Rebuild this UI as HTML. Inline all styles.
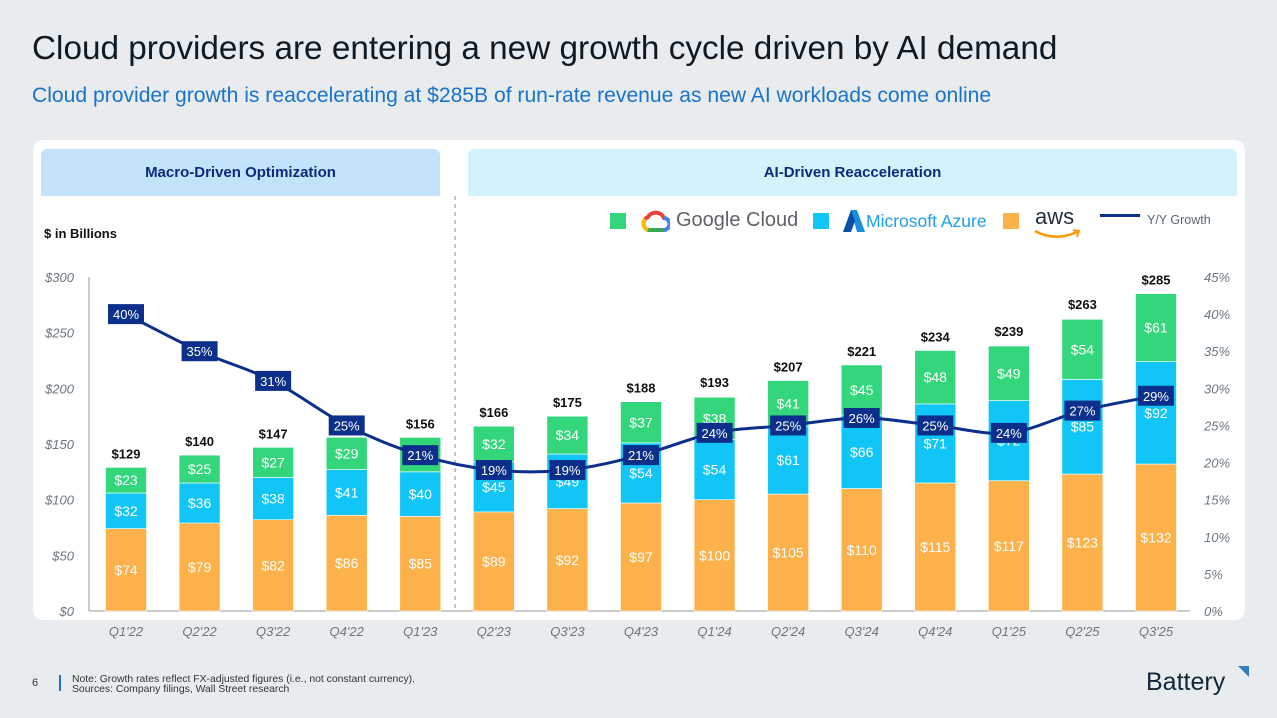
<!DOCTYPE html>
<html><head><meta charset="utf-8"><style>
body{margin:0;width:1277px;height:718px;background:#e8ecee;font-family:"Liberation Sans",sans-serif;position:relative;overflow:hidden}
.t{position:absolute;white-space:nowrap}
</style></head><body>
<div class="t" style="left:32px;top:30px;font-size:33.3px;color:#0e1a24">Cloud providers are entering a new growth cycle driven by AI demand</div>
<div class="t" style="left:32px;top:84px;font-size:21.1px;color:#1a73c9">Cloud provider growth is reaccelerating at $285B of run-rate revenue as new AI workloads come online</div>
<div style="position:absolute;left:33px;top:140px;width:1212px;height:480px;background:#fff;border-radius:10px"></div>
<div style="position:absolute;left:41px;top:149px;width:399px;height:47px;background:#c3e2fb;border-radius:6px 6px 0 0;color:#0d2a7a;font-weight:bold;font-size:15px;text-align:center;line-height:47px">Macro-Driven Optimization</div>
<div style="position:absolute;left:468px;top:149px;width:769px;height:47px;background:#d2f3fb;border-radius:6px 6px 0 0;color:#0d2a7a;font-weight:bold;font-size:15px;text-align:center;line-height:47px">AI-Driven Reacceleration</div>
<div class="t" style="left:44px;top:226px;font-size:13px;font-weight:bold;color:#111">$ in Billions</div>
<div>
<div style="position:absolute;left:610px;top:213px;width:16px;height:16px;background:#33d67a"></div>
<svg style="position:absolute;left:640px;top:208px" width="30" height="26" viewBox="0 0 30 26"><path d="M8 22 A7 7 0 0 1 8 9 A9 9 0 0 1 24 10 A6 6 0 0 1 23 22 Z" fill="none" stroke="#ea4335" stroke-width="4"/><path d="M8 22 L23 22" stroke="#34a853" stroke-width="4"/><path d="M23 22 A6 6 0 0 0 24 10" fill="none" stroke="#4285f4" stroke-width="4"/><path d="M8 22 A7 7 0 0 1 5 11" fill="none" stroke="#fbbc05" stroke-width="4"/></svg>
<div class="t" style="left:676px;top:209px;font-size:20px;color:#5f6368">Google Cloud</div>
<div style="position:absolute;left:813px;top:213px;width:16px;height:16px;background:#11c6f7"></div>
<svg style="position:absolute;left:842px;top:209px" width="24" height="24" viewBox="0 0 24 24"><path d="M9 1 L15 1 L23 23 L15 23 Z" fill="#1a8fe0"/><path d="M9 1 L1 23 L9 23 L13 12 Z" fill="#0b4ea8"/></svg>
<div class="t" style="left:866px;top:211px;font-size:17.5px;color:#1e9ee8">Microsoft Azure</div>
<div style="position:absolute;left:1003px;top:213px;width:16px;height:16px;background:#fdb14a"></div>
<div class="t" style="left:1035px;top:204px;font-size:22px;color:#232f3e">aws</div>
<svg style="position:absolute;left:1033px;top:228px" width="50" height="14"><path d="M2 3 Q22 14 44 4" stroke="#ff9900" stroke-width="2.5" fill="none"/><path d="M40 2 L46 3 L44 9" stroke="#ff9900" stroke-width="2" fill="none"/></svg>
<div style="position:absolute;left:1100px;top:214px;width:40px;height:3px;background:#0b2f8a"></div>
<div class="t" style="left:1147px;top:213px;font-size:12.5px;color:#5b6770">Y/Y Growth</div>
</div>
<svg id="chart" style="position:absolute;left:0;top:0" width="1277" height="718"></svg>
<div class="t" style="left:32px;top:677px;font-size:11px;color:#333">6</div>
<div style="position:absolute;left:59px;top:675px;width:2px;height:16px;background:#1a73c9"></div>
<div class="t" style="left:72px;top:675px;font-size:10.4px;color:#333;line-height:10px">Note: Growth rates reflect FX-adjusted figures (i.e., not constant currency).<br>Sources: Company filings, Wall Street research</div>
<div class="t" style="left:1146px;top:668px;font-size:25px;color:#12263a">Battery</div>
<div style="position:absolute;left:1238px;top:666px;width:0;height:0;border-left:11px solid transparent;border-top:11px solid #2f7fc1"></div>
<script>
const quarters=["Q1'22","Q2'22","Q3'22","Q4'22","Q1'23","Q2'23","Q3'23","Q4'23","Q1'24","Q2'24","Q3'24","Q4'24","Q1'25","Q2'25","Q3'25"];
const aws=[74,79,82,86,85,89,92,97,100,105,110,115,117,123,132];
const azure=[32,36,38,41,40,45,49,54,54,61,66,71,72,85,92];
const google=[23,25,27,29,31,32,34,37,38,41,45,48,49,54,61];
const totals=[129,140,147,156,156,166,175,188,193,207,221,234,239,263,285];
const growth=[40,35,31,25,21,19,19,21,24,25,26,25,24,27,29];
const leftTicks=[0,50,100,150,200,250,300];
const rightTicks=[0,5,10,15,20,25,30,35,40,45];
const svg=document.getElementById('chart');const NS='http://www.w3.org/2000/svg';
const y0=611,y1=277,x0=126,step=73.57,bw=41;
const yL=v=>y0-(v/300)*(y0-y1);const yR=v=>y0-(v/45)*(y0-y1);const xC=i=>x0+i*step;
function el(t,a,txt){const e=document.createElementNS(NS,t);for(const k in a)e.setAttribute(k,a[k]);if(txt!==undefined)e.textContent=txt;svg.appendChild(e);return e;}
let e;
e=el('line',{x1:89,y1:y1,x2:89,y2:y0,stroke:'#999'});
e=el('line',{x1:89,y1:y0,x2:1190,y2:y0,stroke:'#999'});
e=el('line',{x1:455,y1:196,x2:455,y2:611,stroke:'#888','stroke-dasharray':'4,4'});
leftTicks.forEach(v=>{e=el('text',{x:74,y:yL(v)+5,'text-anchor':'end','font-size':13,'font-style':'italic',fill:'#6b7780'},'$'+v);});
rightTicks.forEach(v=>{e=el('text',{x:1204,y:yR(v)+5,'font-size':13,'font-style':'italic',fill:'#6b7780'},v+'%');});
quarters.forEach((q,i)=>{
 const x=xC(i)-bw/2;
 const segs=[[aws[i],0,'#fdb14a','aws'],[azure[i],aws[i],'#11c6f7','azure'],[google[i],aws[i]+azure[i],'#33d67a','google']];
 segs.forEach(([v,b,c,n])=>{
  e=el('rect',{x:x,y:yL(b+v),width:bw,height:yL(b)-yL(b+v),fill:c,stroke:'#fff','stroke-width':0.6});
  e=el('text',{x:xC(i),y:yL(b+v/2)+5,'text-anchor':'middle','font-size':14,fill:'#fff'},'$'+v);
 });
 e=el('text',{x:xC(i),y:yL(totals[i])-9,'text-anchor':'middle','font-size':13,'font-weight':'bold',fill:'#111'},'$'+totals[i]);
 e=el('text',{x:xC(i),y:636,'text-anchor':'middle','font-size':13,'font-style':'italic',fill:'#6b7780'},q);
});
const pts=growth.map((g,i)=>[xC(i),yR(g)]);
let d='M'+pts[0][0]+','+pts[0][1];
for(let i=0;i<pts.length-1;i++){const p0=pts[Math.max(0,i-1)],p1=pts[i],p2=pts[i+1],p3=pts[Math.min(pts.length-1,i+2)];
 d+=' C'+(p1[0]+(p2[0]-p0[0])/6)+','+(p1[1]+(p2[1]-p0[1])/6)+' '+(p2[0]-(p3[0]-p1[0])/6)+','+(p2[1]-(p3[1]-p1[1])/6)+' '+p2[0]+','+p2[1];}
e=el('path',{d:d,fill:'none',stroke:'#0b2f8a','stroke-width':3});
growth.forEach((g,i)=>{
 e=el('rect',{x:xC(i)-18,y:yR(g)-10,width:36,height:20,fill:'#0b2f8a'});
 e=el('text',{x:xC(i),y:yR(g)+5,'text-anchor':'middle','font-size':13,fill:'#fff'},g+'%');
});
</script>
</body></html>
